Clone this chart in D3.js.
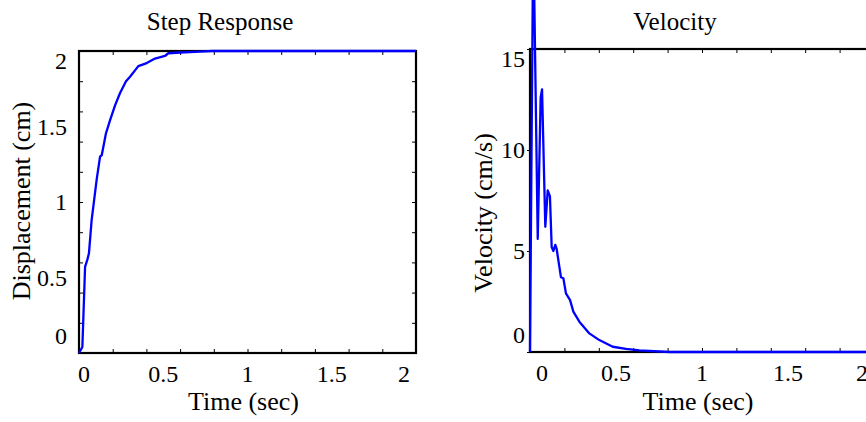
<!DOCTYPE html>
<meta charset="utf-8">
<style>
body { margin: 0; background: #fff; }
svg { display: block; }
text { font-family: "Liberation Serif", "Times New Roman", serif; fill: #000; }
.tick line { stroke: #000; stroke-width: 1px; }
.axis path.domain { display: none; }
.curve { fill: none; stroke: #0000ff; stroke-width: 2.3px; stroke-linejoin: round; }
.box { fill: none; stroke: #000; stroke-width: 2.2px; }
</style>
<svg width="866" height="422"></svg>
<script src="https://d3js.org/d3.v7.min.js"></script>
<script>

// step response
var stepTime = [0, 0.02, 0.036, 0.05, 0.059, 0.075, 0.105, 0.125, 0.135, 0.16, 0.184, 0.214, 0.243, 0.279, 0.303, 0.352, 0.402, 0.451, 0.51, 0.53, 0.6, 0.718, 0.79, 2.0];
var stepDisp = [0, 0.04, 0.57, 0.62, 0.66, 0.88, 1.15, 1.30, 1.31, 1.455, 1.54, 1.64, 1.72, 1.80, 1.83, 1.90, 1.92, 1.95, 1.967, 1.985, 1.99, 1.996, 2.0, 2.0];

// velocity
var velTime = [0, 0.019, 0.045, 0.062, 0.07, 0.089, 0.103, 0.116, 0.126, 0.136, 0.147, 0.155, 0.171, 0.18, 0.194, 0.209, 0.233, 0.252, 0.287, 0.345, 0.403, 0.481, 0.558, 0.636, 0.81, 2.0];
var velValue = [0, 21, 5.6, 12.6, 13.0, 6.2, 8.0, 7.7, 5.2, 5.0, 5.3, 5.1, 4.2, 3.7, 3.65, 2.9, 2.57, 2.0, 1.5, 0.92, 0.59, 0.26, 0.15, 0.08, 0, 0];

var timeLabels = [0, 0.5, 1, 1.5, 2];
var dispLabels = [0, 0.5, 1, 1.5, 2];
var velLabels = [0, 5, 10, 15];
var minorTicks = [0.2, 0.4, 0.6, 0.8, 1.0, 1.2, 1.4, 1.6, 1.8];
var dispMinor = [0.2, 0.4, 0.6, 0.8, 1.0, 1.2, 1.4, 1.6, 1.8];

var svg = d3.select("svg");

function clamp(v, lo, hi) { return Math.max(lo, Math.min(hi, v)); }

function panel(opt) {
  var x = d3.scaleLinear().domain([0, 2]).range(opt.xr);
  var y = d3.scaleLinear().domain(opt.ydom).range(opt.yr);
  var g = svg.append("g");
  var x0 = opt.xr[0], x1 = opt.xr[1], yb = opt.yr[0], yt = opt.yr[1];

  // minor ticks, pointing into the box
  g.append("g").attr("class", "axis").attr("transform", "translate(0," + yb + ")")
    .call(d3.axisTop(x).tickValues(minorTicks).tickSize(4).tickFormat(""));
  g.append("g").attr("class", "axis").attr("transform", "translate(0," + yt + ")")
    .call(d3.axisBottom(x).tickValues(minorTicks).tickSize(4).tickFormat(""));
  if (opt.yMinor) {
    g.append("g").attr("class", "axis").attr("transform", "translate(" + x0 + ",0)")
      .call(d3.axisRight(y).tickValues(opt.yMinor).tickSize(4).tickFormat(""));
    g.append("g").attr("class", "axis").attr("transform", "translate(" + x1 + ",0)")
      .call(d3.axisLeft(y).tickValues(opt.yMinor).tickSize(4).tickFormat(""));
  } else {
    g.append("g").attr("class", "axis").attr("transform", "translate(" + x0 + ",0)")
      .call(d3.axisLeft(y).tickValues(opt.yLabels).tickSize(3).tickFormat(""));
  }

  g.append("rect").attr("class", "box")
    .attr("x", x0).attr("y", yt).attr("width", x1 - x0).attr("height", yb - yt);

  var line = d3.line().x(function(d) { return x(d[0]); }).y(function(d) { return y(d[1]); });
  g.append("path").attr("class", "curve").datum(d3.zip(opt.t, opt.v)).attr("d", line);

  g.selectAll(".xl").data(timeLabels).enter().append("text")
    .attr("x", function(d) { return clamp(x(d), x0 + opt.xPad, x1 - 12); })
    .attr("y", yb + 29)
    .attr("text-anchor", "middle").style("font-size", "24px")
    .text(function(d) { return d; });

  g.selectAll(".yl").data(opt.yLabels).enter().append("text")
    .attr("x", x0 - opt.yGap)
    .attr("y", function(d) { return clamp(y(d), yt + 10, yb - 17); })
    .attr("dy", "0.35em")
    .attr("text-anchor", "end").style("font-size", "24px")
    .text(function(d) { return d; });

  g.append("text").attr("x", opt.titleX).attr("y", 30)
    .attr("text-anchor", "middle").style("font-size", "25px").text(opt.title);
  g.append("text").attr("x", (x0 + Math.min(x1, 874)) / 2 - 4).attr("y", 410)
    .attr("text-anchor", "middle").style("font-size", "26px").text("Time (sec)");
  g.append("text")
    .attr("transform", "translate(" + opt.ylabX + "," + opt.ylabY + ") rotate(-90)")
    .attr("text-anchor", "middle").style("font-size", "26px").text(opt.ylab);
}

panel({
  xr: [79, 416], yr: [353, 51], ydom: [0, 2],
  t: stepTime, v: stepDisp,
  yLabels: dispLabels, yMinor: dispMinor,
  xPad: 5, yGap: 12,
  title: "Step Response", titleX: 220,
  ylab: "Displacement (cm)", ylabX: 30, ylabY: 201
});

panel({
  xr: [530, 874], yr: [352, 49], ydom: [0, 15],
  t: velTime, v: velValue,
  yLabels: velLabels, yMinor: null,
  xPad: 12, yGap: 5,
  title: "Velocity", titleX: 675,
  ylab: "Velocity (cm/s)", ylabX: 492, ylabY: 213
});

</script>
